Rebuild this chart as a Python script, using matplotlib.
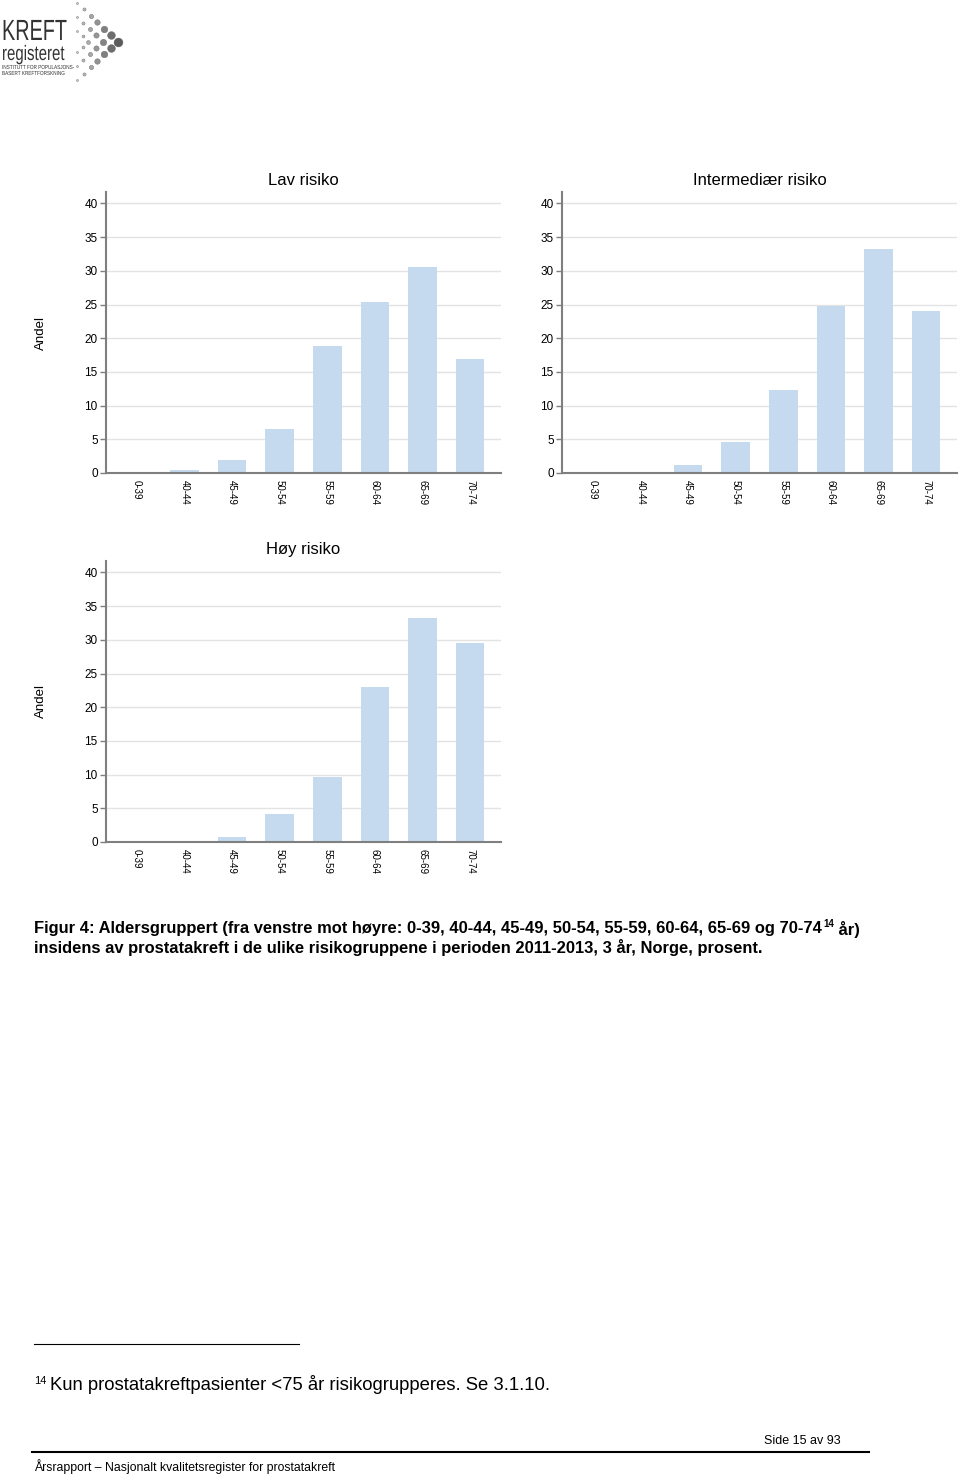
import matplotlib
matplotlib.use("Agg")
import matplotlib.pyplot as plt
import numpy as np
from matplotlib.textpath import TextPath
from matplotlib.patches import PathPatch
from matplotlib.font_manager import FontProperties
from matplotlib.transforms import Affine2D

AGES = ["0-39", "40-44", "45-49", "50-54", "55-59", "60-64", "65-69", "70-74"]
LAV = [0.0, 0.5, 1.9, 6.5, 18.9, 25.4, 30.6, 16.9]
INTERMED = [0.0, 0.1, 1.2, 4.6, 12.3, 24.8, 33.3, 24.0]
HOY = [0.0, 0.05, 0.8, 4.2, 9.7, 23.0, 33.3, 29.5]
YTICKS = [0, 5, 10, 15, 20, 25, 30, 35, 40]

PANELS = [
    ("Lav risiko", LAV),
    ("Intermediær risiko", INTERMED),
    ("Høy risiko", HOY),
]

SANS = ["Liberation Sans", "DejaVu Sans"]
plt.rcParams["font.family"] = SANS

W, H = 960, 1477
fig = plt.figure(figsize=(W / 100, H / 100), dpi=100)

# page overlay in pixel coordinates (y down)
page = fig.add_axes([0, 0, 1, 1], zorder=-1)
page.set_xlim(0, W)
page.set_ylim(H, 0)
page.axis("off")

PX_PER_PT = 100 / 72


def narrow_text(x, y, s, size, squeeze=0.78, color="black", weight="normal"):
    """Draw horizontally compressed text (baseline at y, pixels)."""
    tp = TextPath((0, 0), s, size=size, prop=FontProperties(family="Liberation Sans", weight=weight))
    tr = Affine2D().scale(squeeze * PX_PER_PT, -PX_PER_PT).translate(x, y)
    page.add_patch(PathPatch(tr.transform_path(tp), color=color, lw=0))


BAR = "#c5d9ef"
SPINE = "#7f7f7f"
GRID = "#e3e3e3"

# (left, top, right, bottom) in pixels
BOXES = [(106, 192, 501, 473), (562, 192, 957, 473), (106, 561, 501, 842)]
LABEL_X = [41, 497, 41]

for (title, vals), (l, t, r, b), lx in zip(PANELS, BOXES, LABEL_X):
    ax = fig.add_axes([l / W, 1 - b / H, (r - l) / W, (b - t) / H])
    x = np.arange(len(AGES))
    ax.bar(x, vals, width=0.6, color=BAR, zorder=2)
    ax.set_xlim(-0.65, len(AGES) - 0.35)
    ax.set_ylim(0, 41.7)
    ax.set_yticks(YTICKS)
    ax.set_xticks(x)
    ax.set_xticklabels(AGES, rotation=270, fontsize=7)
    ax.tick_params(axis="x", length=0, pad=5)
    ax.tick_params(axis="y", length=4, width=1, color=SPINE, labelsize=8.5, pad=2)
    ax.grid(axis="y", color=GRID, lw=1, zorder=0)
    for s in ("top", "right"):
        ax.spines[s].set_visible(False)
    for s in ("left", "bottom"):
        ax.spines[s].set_color(SPINE)
        ax.spines[s].set_linewidth(1.5)
    ax.set_title(title, fontsize=12, pad=5)
    page.text(lx, (t + b) / 2, "Andel", rotation=90, ha="center", va="center", fontsize=9.5)

# logo: text + arrow of grey dots
narrow_text(2, 40, "KREFT", 21, squeeze=0.68, color="#333333")
narrow_text(2, 60, "registeret", 15, squeeze=0.72, color="#333333")
narrow_text(2, 69, "INSTITUTT FOR POPULASJONS-", 4.2, squeeze=0.8, color="#333333")
narrow_text(2, 75, "BASERT KREFTFORSKNING", 4.2, squeeze=0.8, color="#333333")
mid = 41.5
for row in range(3):
    y_start = 3 + 14 * row
    dx_total = (mid - y_start) / 0.95
    n = max(int(round(dx_total / 6.8)), 1)
    for i in range(n + 1):
        xx = 77 + dx_total * i / n
        dy = (mid - y_start) * (1 - i / n)
        f = (xx - 77) / 41
        d = 2 + 7 * f
        g = str(0.8 - 0.45 * f)
        for sgn in (-1, 1):
            if i == n and sgn == 1:
                continue
            page.scatter(xx, mid + sgn * dy, s=(d * 0.72) ** 2, color=g, lw=0.3,
                         edgecolor="#666666", zorder=3)

# caption
fig.canvas.draw()
ren = fig.canvas.get_renderer()
inv = page.transData.inverted()
cap_fs = 11.9
t1 = page.text(34, 929, "Figur 4: Aldersgruppert (fra venstre mot høyre: 0-39, 40-44, 45-49, 50-54, 55-59, 60-64, 65-69 og 70-74",
               fontsize=cap_fs, weight="bold", va="center")
bb = t1.get_window_extent(ren).transformed(inv)
t2 = page.text(bb.x1 + 1, 924, "14", fontsize=7, weight="bold", va="center")
bb2 = t2.get_window_extent(ren).transformed(inv)
page.text(bb2.x1, 929, " år)", fontsize=cap_fs, weight="bold", va="center")
page.text(34, 948, "insidens av prostatakreft i de ulike risikogruppene i perioden 2011-2013, 3 år, Norge, prosent.",
          fontsize=cap_fs, weight="bold", va="center")

# footnote
page.plot([34, 299], [1344, 1344], color="black", lw=0.8)
f1 = page.text(34, 1381, "14", fontsize=8, va="center")
fb = f1.get_window_extent(ren).transformed(inv)
page.text(fb.x1 + 4, 1385, "Kun prostatakreftpasienter <75 år risikogrupperes. Se 3.1.10.",
          fontsize=13.3, va="center")

# footer
page.text(764, 1441, "Side 15 av 93", fontsize=9, va="center")
page.plot([32, 869], [1452, 1452], color="black", lw=1.5)
page.text(34, 1467, "Årsrapport – Nasjonalt kvalitetsregister for prostatakreft", fontsize=8.8, va="center")

fig.savefig("out.png", dpi=100)
